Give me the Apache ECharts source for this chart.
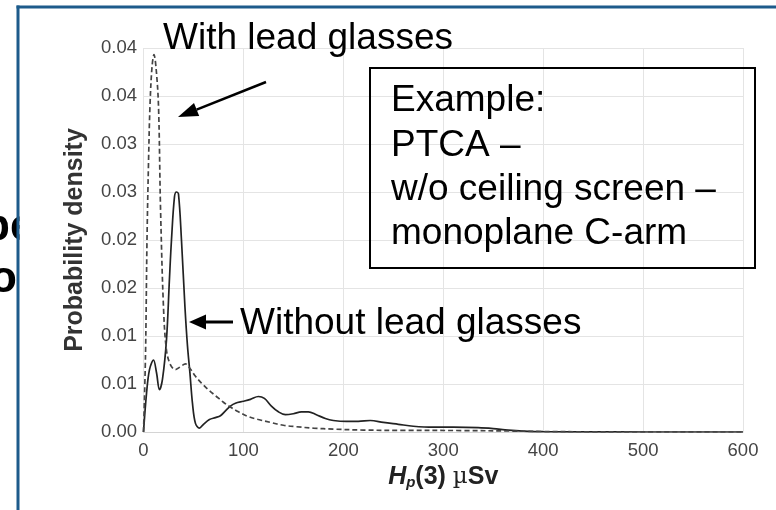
<!DOCTYPE html>
<html><head><meta charset="utf-8">
<script src="https://cdn.jsdelivr.net/npm/echarts@6/dist/echarts.min.js"></script>
<style>html,body{margin:0;padding:0;background:#fff}#c{width:776px;height:510px}</style>
</head><body><div id="c"></div>
<script>
// ---- data ----
const yTickLabels = ['0.00','0.01','0.01','0.02','0.02','0.03','0.03','0.04','0.04'];
const xTickLabels = ['0','100','200','300','400','500','600'];

const withoutX = [0,3,6,10,13,16,19,23,26,28,31,33,35,38,41.5,44,46.5,49,52,56,60,66,72,77,82,87,92,100,107,115,121,128,135,142,150,158,165,173,182,190,203,215,227,240,255,270,290,310,335,350,365,380,400,450,500,600];
const withoutY = [0,0.004,0.0065,0.0075,0.0062,0.0044,0.0055,0.0096,0.016,0.020,0.0245,0.025,0.0248,0.020,0.013,0.009,0.0061,0.003,0.0009,0.0004,0.0008,0.0013,0.0015,0.0017,0.0022,0.0027,0.003,0.0032,0.0034,0.0037,0.0035,0.0027,0.0021,0.0018,0.0019,0.0021,0.0021,0.0018,0.0014,0.0012,0.0011,0.0011,0.0012,0.001,0.0008,0.0006,0.0005,0.0005,0.00045,0.00035,0.0002,0.0001,0.00003,0.00001,0,0];

const withX = [0,2,3.5,5,6.5,8.5,10.5,12.5,15,17,20,23,27,32,37,42,46,52,58,65,73,80,87,95,105,115,127,140,153,170,190,220,260,320,370,400,450,500,600];
const withY = [0,0.008,0.02,0.028,0.034,0.038,0.0393,0.038,0.034,0.0235,0.013,0.0085,0.007,0.0065,0.0068,0.0071,0.0067,0.0058,0.0051,0.0044,0.0037,0.0031,0.0026,0.0021,0.0016,0.0013,0.001,0.0007,0.00055,0.0004,0.0003,0.0002,0.00017,0.00015,0.0001,0.00005,0.00002,0.00001,0];

const topLabel = 'With lead glasses';
const sideLabel = 'Without lead glasses';
const boxLines = ['Example:', 'PTCA \u2013', 'w/o ceiling screen \u2013', 'monoplane C-arm'];
const leftFragments = ['pe', 'o'];

// ---- chart ----
const zip = (xs, ys) => xs.map((x, i) => [x, ys[i]]);
const chart = echarts.init(document.getElementById('c'));
const ann = 'Liberation Sans, Arial, sans-serif';

const boxTexts = boxLines.map((t, i) => ({
  type: 'text', x: 391, y: 101 + i * 44.4, z: 10,
  style: { text: t, font: '37px ' + ann, fill: '#000', verticalAlign: 'middle', align: 'left' }
}));

chart.setOption({
  animation: false,
  backgroundColor: '#fff',
  grid: { left: 143.5, right: 33, top: 48, bottom: 78, containLabel: false },
  xAxis: {
    type: 'value', min: 0, max: 600, interval: 100,
    axisLine: { show: true, lineStyle: { color: '#d4d4d4', width: 1 } },
    axisTick: { show: false },
    splitLine: { show: true, lineStyle: { color: '#e4e4e4', width: 1 } },
    axisLabel: { color: '#444', fontFamily: ann, fontSize: 18.5, margin: 9,
      formatter: v => xTickLabels[Math.round(v / 100)] },
    name: '{h|H}{p|p}{b|(3) }{mu|\u00b5}{b|Sv}',
    nameLocation: 'middle', nameGap: 28,
    nameTextStyle: {
      rich: {
        h: { fontFamily: ann, fontWeight: 'bold', fontStyle: 'italic', fontSize: 25, color: '#222' },
        p: { fontFamily: ann, fontWeight: 'bold', fontStyle: 'italic', fontSize: 15, color: '#222', verticalAlign: 'bottom', padding: [9, 0, 0, 0] },
        b: { fontFamily: ann, fontWeight: 'bold', fontSize: 25, color: '#222' },
        mu: { fontFamily: 'DejaVu Serif, serif', fontSize: 23, color: '#222' }
      }
    }
  },
  yAxis: {
    type: 'value', min: 0, max: 0.04, interval: 0.005,
    axisLine: { show: false }, axisTick: { show: false },
    splitLine: { show: true, lineStyle: { color: '#e4e4e4', width: 1 } },
    axisLabel: { color: '#444', fontFamily: ann, fontSize: 18.5, margin: 6.5,
      formatter: v => yTickLabels[Math.round(v / 0.005)] },
    name: 'Probability density', nameLocation: 'middle', nameGap: 56,
    nameTextStyle: { fontFamily: ann, fontWeight: 'bold', fontSize: 25, color: '#333' }
  },
  series: [
    { name: sideLabel, type: 'line', data: zip(withoutX, withoutY), showSymbol: false, symbol: 'none',
      smooth: 0.35, lineStyle: { color: '#222', width: 1.7 }, z: 3 },
    { name: topLabel, type: 'line', data: zip(withX, withY), showSymbol: false, symbol: 'none',
      smooth: 0.35, lineStyle: { color: '#444', width: 1.7, type: [5, 3] }, z: 4 }
  ],
  graphic: [
    { type: 'text', x: -17, y: 228, style: { text: leftFragments[0], font: 'bold 44px ' + ann, fill: '#000', verticalAlign: 'middle', align: 'left' } },
    { type: 'text', x: 17, y: 280, style: { text: leftFragments[1], font: 'bold 44px ' + ann, fill: '#000', verticalAlign: 'middle', align: 'right' } },
    { type: 'rect', shape: { x: 19.5, y: 150, width: 40, height: 160 }, style: { fill: '#fff' }, z: 1 },
    { type: 'line', shape: { x1: 16.5, y1: 7, x2: 776, y2: 7 }, style: { stroke: '#1d5b8b', lineWidth: 3 }, z: 20 },
    { type: 'line', shape: { x1: 18, y1: 5.5, x2: 18, y2: 510 }, style: { stroke: '#1d5b8b', lineWidth: 3 }, z: 20 },
    { type: 'text', x: 163, y: 39, z: 10, style: { text: topLabel, font: '37px ' + ann, fill: '#000', verticalAlign: 'middle', align: 'left' } },
    { type: 'line', shape: { x1: 266, y1: 82, x2: 196.6, y2: 109.6 }, style: { stroke: '#000', lineWidth: 2.5 }, z: 10 },
    { type: 'polygon', shape: { points: [[178, 117], [199.2, 116.1], [194.0, 103.1]] }, style: { fill: '#000' }, z: 10 },
    { type: 'text', x: 240, y: 324, z: 10, style: { text: sideLabel, font: '37px ' + ann, fill: '#000', verticalAlign: 'middle', align: 'left' } },
    { type: 'line', shape: { x1: 233, y1: 322, x2: 204, y2: 322 }, style: { stroke: '#000', lineWidth: 3 }, z: 10 },
    { type: 'polygon', shape: { points: [[189, 322], [206, 314.5], [206, 329.5]] }, style: { fill: '#000' }, z: 10 },
    { type: 'rect', shape: { x: 370, y: 68, width: 385, height: 200 }, style: { fill: 'none', stroke: '#000', lineWidth: 2 }, z: 10 },
    ...boxTexts
  ]
});
</script>
</body></html>
